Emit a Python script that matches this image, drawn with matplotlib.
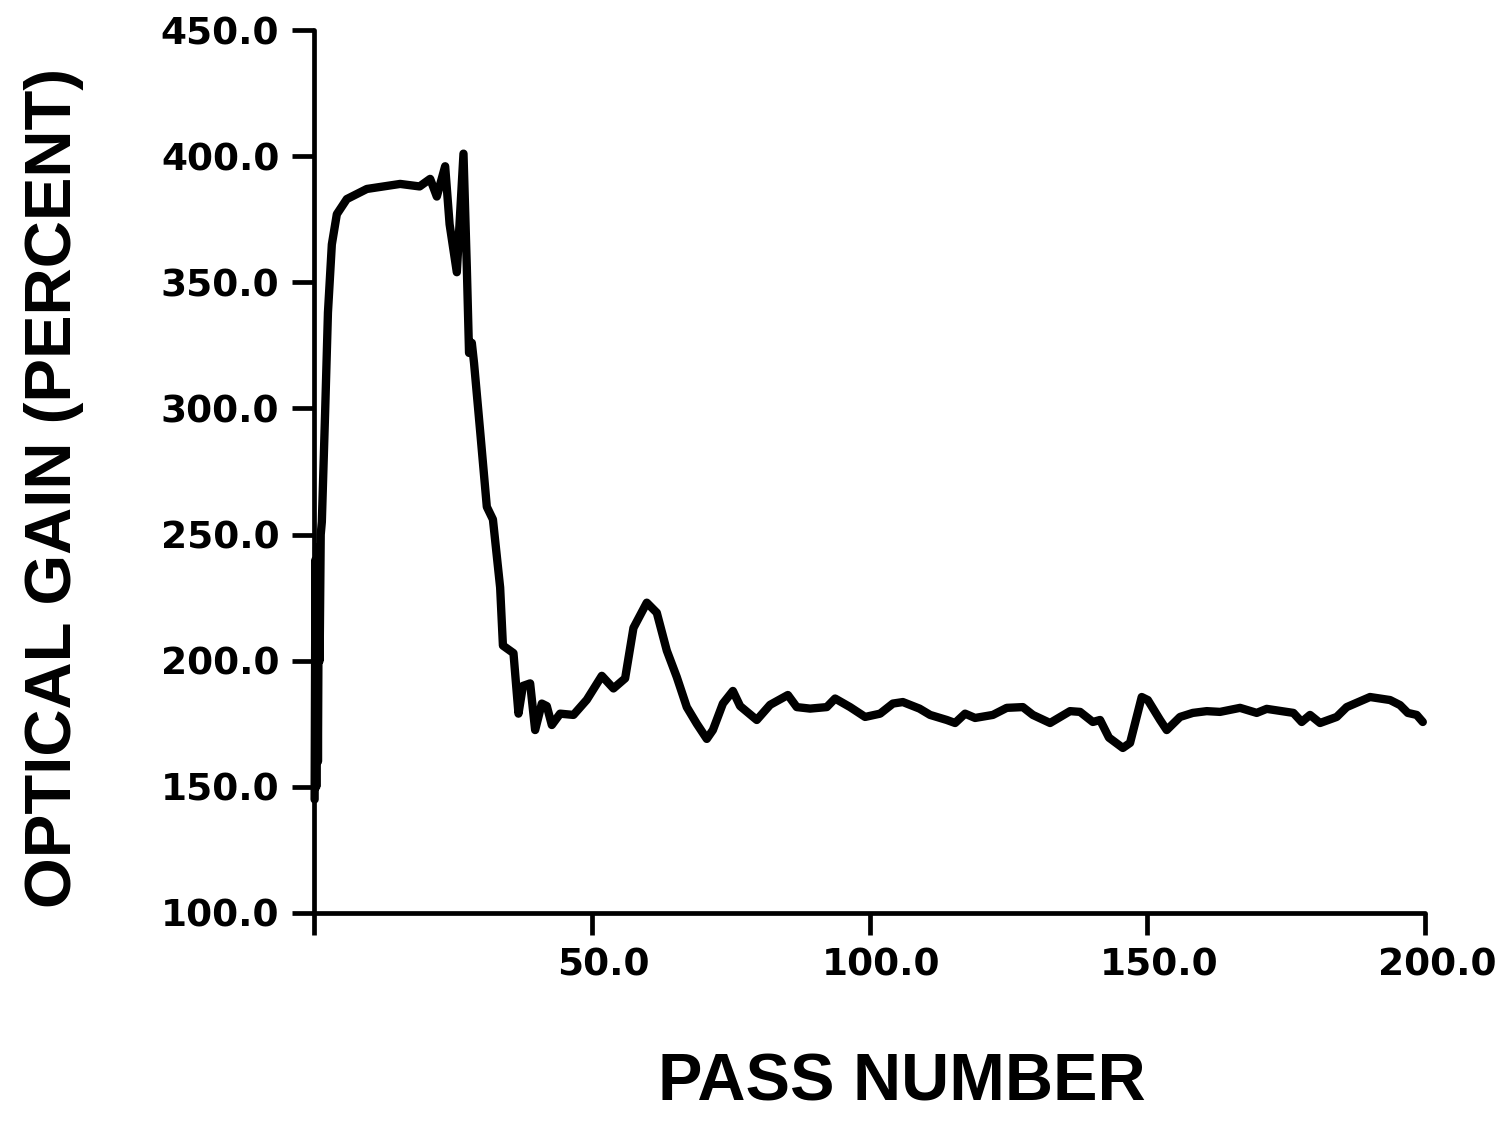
import numpy as np
import matplotlib
matplotlib.use("Agg")
from matplotlib import pyplot as plt
from matplotlib.transforms import ScaledTranslation

# gain per pass
pass_number = [0.1, 0.25, 0.4, 0.55, 0.7, 0.85, 1.0, 1.2, 1.4, 2.0, 2.5, 3.2, 4.1,
               5.9, 9.5, 15.5, 19.0, 20.9, 22.1, 23.6, 24.4, 25.7, 26.9, 27.5,
               27.9, 28.4, 28.8, 29.9, 31.1, 32.2, 33.5, 34.0, 35.9, 36.8, 37.6,
               38.9, 39.8, 41.0, 41.9, 42.8, 44.3, 46.7, 49.1, 51.8, 53.9, 56.0,
               57.5, 59.9, 61.7, 63.5, 65.3, 67.1, 68.9, 70.7, 71.8, 73.6, 75.4,
               76.7, 79.7, 82.1, 85.3, 86.9, 89.3, 92.3, 93.8, 96.5, 99.2, 101.9,
               104.2, 106.0, 109.0, 110.9, 113.9, 115.4, 117.2, 119.0, 122.2,
               124.7, 127.6, 129.4, 132.5, 136.1, 137.9, 140.2, 141.5, 143.1,
               145.6, 146.9, 149.0, 150.1, 152.3, 153.5, 155.9, 158.2, 160.7,
               163.1, 166.7, 169.7, 171.5, 176.3, 177.8, 179.3, 181.1, 184.1,
               185.9, 190.1, 193.7, 195.5, 196.9, 198.5, 199.6]
gain = [145, 240, 150, 245, 160, 235, 200, 250, 255, 299, 338, 365, 377,
        383, 387, 389, 388, 391, 384, 396, 373, 354, 401, 356,
        322, 326, 318, 291, 261, 256, 229, 206, 203, 179, 190,
        191, 172.5, 183, 182, 174.5, 179, 178.5, 184.5, 194, 189, 193,
        213, 223, 219, 204, 193.5, 181.6, 175, 169, 172.5, 183, 188,
        182, 176.5, 182.5, 186.4, 181.6, 181, 181.6, 185, 181.6, 177.7, 179,
        183, 183.6, 181, 178.5, 176.5, 175.3, 179, 177.3, 178.5,
        181.3, 181.6, 178.5, 175.3, 180, 179.7, 175.7, 176.5, 169.5,
        165.4, 167.4, 185.6, 184.4, 176.5, 172.5, 177.7, 179.3, 180,
        179.7, 181.3, 179.3, 180.9, 179.3, 175.7, 178.5, 175.3, 177.7,
        181.6, 185.6, 184.4, 182.4, 179.3, 178.5, 175.7]

x_ticks = [0, 50, 100, 150, 200]
x_tick_labels = ["", "50.0", "100.0", "150.0", "200.0"]
y_ticks = [100, 150, 200, 250, 300, 350, 400, 450]
y_tick_labels = ["100.0", "150.0", "200.0", "250.0", "300.0", "350.0", "400.0", "450.0"]

fig = plt.figure(figsize=(15.07, 11.21), dpi=100)
ax = fig.add_axes([0.2084, 0.1856, 0.7372, 0.7876])

ax.plot(pass_number, gain, color="black", lw=6.0, solid_joinstyle="round",
        solid_capstyle="round", clip_on=False)

ax.set_xlim(0, 200)
ax.set_ylim(100, 450)
ax.spines["top"].set_visible(False)
ax.spines["right"].set_visible(False)
for side in ["left", "bottom"]:
    ax.spines[side].set_linewidth(3.4)
    ax.spines[side].set_capstyle("round")

ax.set_xticks(x_ticks)
ax.set_xticklabels(x_tick_labels)
ax.set_yticks(y_ticks)
ax.set_yticklabels(y_tick_labels)
ax.tick_params(axis="both", direction="out", length=16, width=3.4, pad=9,
               labelsize=27)
for lbl in ax.get_xticklabels() + ax.get_yticklabels():
    lbl.set_fontweight("bold")
    lbl.set_fontfamily("DejaVu Sans")
# x labels sit a little to the right of their ticks
shift = ScaledTranslation(12 / 100, 0, fig.dpi_scale_trans)
for lbl in ax.get_xticklabels():
    lbl.set_transform(lbl.get_transform() + shift)

ax.set_xlabel("PASS NUMBER", fontsize=48, fontweight="bold",
              fontfamily="Liberation Sans")
ax.set_ylabel("OPTICAL GAIN (PERCENT)", fontsize=47, fontweight="bold",
              fontfamily="Liberation Sans")
ax.xaxis.set_label_coords(0.529, -0.158)
ax.yaxis.set_label_coords(-0.207, 0.481)

fig.savefig("out.png", dpi=100, facecolor="white")
